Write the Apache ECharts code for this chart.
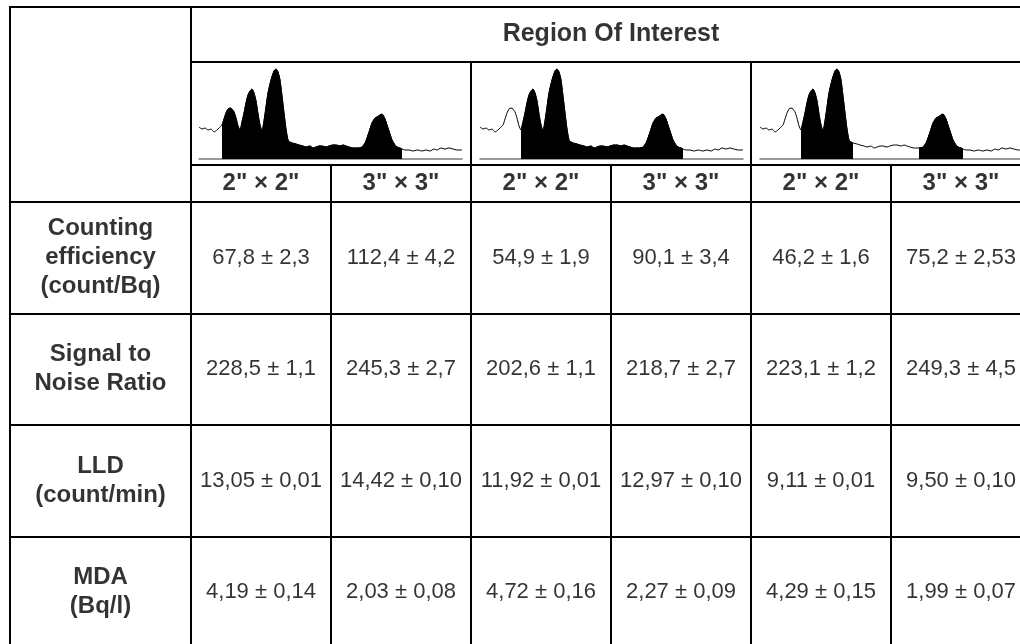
<!DOCTYPE html>
<html>
<head>
<meta charset="utf-8">
<script src="https://cdn.jsdelivr.net/npm/echarts@6/dist/echarts.min.js"></script>
<style>
html,body{margin:0;padding:0;background:#fff;}
#main{width:1020px;height:644px;}
</style>
</head>
<body>
<div id="main"></div>
<script>
// table contents
var headerTitle=['Region Of Interest'];
var sizeLabels=['2" \u00d7 2"','3" \u00d7 3"','2" \u00d7 2"','3" \u00d7 3"','2" \u00d7 2"','3" \u00d7 3"'];
var metricNames=['Counting\nefficiency\n(count/Bq)','Signal to\nNoise Ratio','LLD\n(count/min)','MDA\n(Bq/l)'];
var efficiency=['67,8 \u00b1 2,3','112,4 \u00b1 4,2','54,9 \u00b1 1,9','90,1 \u00b1 3,4','46,2 \u00b1 1,6','75,2 \u00b1 2,53'];
var signalNoise=['228,5 \u00b1 1,1','245,3 \u00b1 2,7','202,6 \u00b1 1,1','218,7 \u00b1 2,7','223,1 \u00b1 1,2','249,3 \u00b1 4,5'];
var lld=['13,05 \u00b1 0,01','14,42 \u00b1 0,10','11,92 \u00b1 0,01','12,97 \u00b1 0,10','9,11 \u00b1 0,01','9,50 \u00b1 0,10'];
var mda=['4,19 \u00b1 0,14','2,03 \u00b1 0,08','4,72 \u00b1 0,16','2,27 \u00b1 0,09','4,29 \u00b1 0,15','1,99 \u00b1 0,07'];

// spectrum thumbnail (channel, counts)
var spectrumChannel=[0,3,6,9,12,15,18,20,23,25,27,29,31,33,35,37,39,41,43,45,47,49,51,53,55,57,59,61,63,65,67,69,72,75,77,79,81,83,85,87,89,91,93,97,100,104,107,111,114,117,120,123,127,130,134,137,141,144,147,150,154,157,159,163,166,168,171,173,176,178,181,183,186,188,191,193,196,198,201,203,206,210,214,218,223,227,231,235,238,242,246,250,254,258,263];
var spectrumCounts=[32,30,31,29,30,27,29,31,34,40,46,50,51,50,47,41,33,29,37,46,56,64,68,70,66,58,45,34,28,38,52,66,79,88,90,87,79,63,46,30,19,17,16,15,14,13,12,13,11,12,13,13,12,13,14,14,13,14,13,12,11,11,11,12,16,21,30,36,41,42,44,45,40,34,25,19,14,12,11,10,9,9,8,9,8,9,8,10,9,11,10,11,10,9,9];
// filled regions of interest (channel ranges) for each of the three windows
var roiRanges=[
    [[23,203]],
    [[41,203]],
    [[41,93],[159,203]]
];

var FONT='Liberation Sans';
var myChart=echarts.init(document.getElementById('main'));

var lineCol={color:'#000',width:2};

function catAxis(grid,data,inverse){
    return {
        type:'category',gridIndex:grid,data:data,inverse:!!inverse,
        axisLine:{show:false},axisTick:{show:false},
        axisLabel:{show:false,interval:0},
        splitLine:{show:true,interval:0,lineStyle:lineCol}
    };
}
function cellBox(left,top,width,height){
    return {left:left,top:top,width:width,height:height,outerBoundsMode:'none',containLabel:false,
        show:true,borderColor:'#000',borderWidth:2,backgroundColor:'transparent'};
}
function textSeries(axisIdx,data,label){
    return {
        type:'scatter',xAxisIndex:axisIdx,yAxisIndex:axisIdx,
        symbol:'circle',symbolSize:1,silent:true,data:data,
        itemStyle:{color:'rgba(0,0,0,0)'},
        label:Object.assign({show:true,position:'inside',color:'#000',fontFamily:FONT,
            formatter:function(p){return p.value[2];}},label)
    };
}

var cols=[0,1,2,3,4,5];
var grids=[
    cellBox(10,7,181,195),   // empty corner
    cellBox(191,7,840,55),   // region of interest
    cellBox(191,62,840,103), // spectra row
    cellBox(191,165,840,37), // detector sizes
    cellBox(10,202,181,446), // metric names
    cellBox(191,202,840,446) // values
];
var xAxes=[
    catAxis(0,['']),
    catAxis(1,headerTitle),
    catAxis(2,['a','b','c']),
    catAxis(3,cols),
    catAxis(4,['']),
    catAxis(5,cols)
];
var yAxes=[
    catAxis(0,['']),
    catAxis(1,['']),
    catAxis(2,['']),
    catAxis(3,['']),
    catAxis(4,metricNames,true),
    catAxis(5,metricNames,true)
];

var series=[];
series.push(textSeries(1,[[0,0,headerTitle[0]]],{fontSize:25,fontWeight:'bold'}));
series.push(textSeries(3,sizeLabels.map(function(s,i){return [i,0,s];}),{fontSize:24,fontWeight:'bold'}));
series.push(textSeries(4,metricNames.map(function(s,i){return [0,i,s];}),{fontSize:24,fontWeight:'bold',lineHeight:29,align:'center'}));
var rows=[efficiency,signalNoise,lld,mda];
var cellData=[];
rows.forEach(function(row,r){
    row.forEach(function(txt,c){cellData.push([c,r,txt]);});
});
series.push(textSeries(5,cellData,{fontSize:22}));

// spectra thumbnails
var spectrumLeft=[199,480,760];
var specPoints=spectrumChannel.map(function(ch,i){return [ch,spectrumCounts[i]];});
spectrumLeft.forEach(function(left,k){
    var g=grids.length;
    grids.push({left:left,top:67,width:263,height:92,outerBoundsMode:'none',containLabel:false});
    var ax=xAxes.length;
    xAxes.push({type:'value',gridIndex:g,min:0,max:263,
        axisLine:{show:true,lineStyle:{color:'#7a7a7a',width:1.5}},
        axisTick:{show:false},axisLabel:{show:false},splitLine:{show:false}});
    yAxes.push({type:'value',gridIndex:g,min:0,max:92,
        axisLine:{show:false},axisTick:{show:false},axisLabel:{show:false},splitLine:{show:false}});
    series.push({type:'line',xAxisIndex:ax,yAxisIndex:ax,data:specPoints,
        symbol:'none',silent:true,smooth:0.2,lineStyle:{color:'#000',width:1}});
    roiRanges[k].forEach(function(rg){
        series.push({type:'line',xAxisIndex:ax,yAxisIndex:ax,
            data:specPoints.filter(function(p){return p[0]>=rg[0]&&p[0]<=rg[1];}),
            symbol:'none',silent:true,smooth:0.2,
            lineStyle:{color:'#000',width:1},
            areaStyle:{color:'#000',opacity:1}});
    });
});

var option={
    backgroundColor:'#fff',
    animation:false,
    grid:grids,
    xAxis:xAxes,
    yAxis:yAxes,
    series:series
};
myChart.setOption(option);
</script>
</body>
</html>
